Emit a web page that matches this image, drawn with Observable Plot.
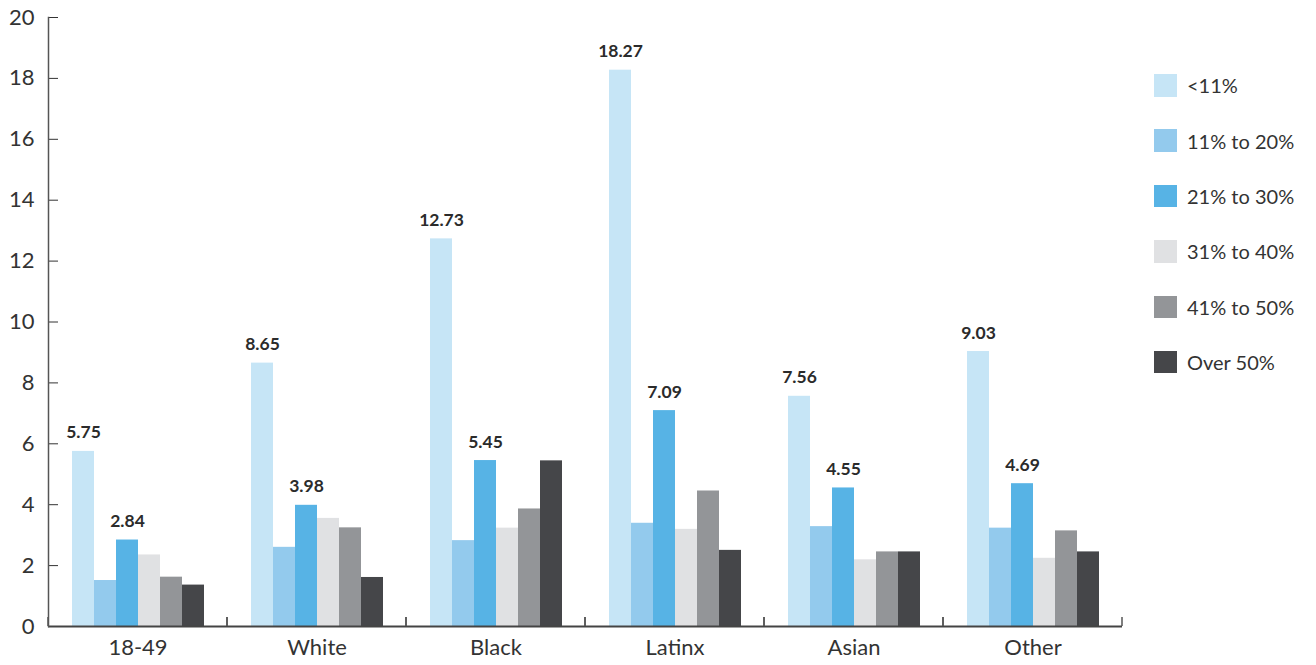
<!DOCTYPE html>
<html>
<head>
<meta charset="utf-8">
<script src="https://cdn.jsdelivr.net/npm/d3@7"></script>
<script src="https://cdn.jsdelivr.net/npm/@observablehq/plot@0.6"></script>
<style>
  body { margin: 0; background: #fff; font-family: Lato, sans-serif; }
  #wrap { position: relative; width: 1316px; height: 665px; }
  #legend { position: absolute; left: 1154px; top: 74px; }
  .item { display: flex; align-items: center; height: 22.5px; margin-bottom: 32.9px; font-size: 20px; font-weight: 400; color: #333; white-space: nowrap; }
  .sw { width: 22.5px; height: 22.5px; margin-right: 10.5px; flex: none; }
</style>
</head>
<body>
<div id="wrap"><div id="legend"></div></div>
<script>
// Groups along the x axis
const categories = ["18-49", "White", "Black", "Latinx", "Asian", "Other"];

// Bar series (one bar per group for each)
const series = ["<11%", "11% to 20%", "21% to 30%", "31% to 40%", "41% to 50%", "Over 50%"];
const colors = ["#c6e5f6", "#93caed", "#57b3e5", "#e0e1e3", "#939598", "#454649"];

// Values per series, in the order of categories
const under11 = [5.75, 8.65, 12.73, 18.27, 7.56, 9.03];
const from11to20 = [1.51, 2.60, 2.82, 3.39, 3.28, 3.23];
const from21to30 = [2.84, 3.98, 5.45, 7.09, 4.55, 4.69];
const from31to40 = [2.35, 3.55, 3.23, 3.19, 2.19, 2.24];
const from41to50 = [1.62, 3.24, 3.86, 4.45, 2.45, 3.14];
const over50 = [1.36, 1.61, 5.44, 2.50, 2.45, 2.45];

// Series whose bars carry a value label
const labelledSeries = ["<11%", "21% to 30%"];

// Y axis tick values
const yTicks = [0, 2, 4, 6, 8, 10, 12, 14, 16, 18, 20];

const seriesValues = [under11, from11to20, from21to30, from31to40, from41to50, over50];
const table = series.flatMap((s, j) =>
  categories.map((c, i) => ({category: c, series: s, value: seriesValues[j][i]}))
);

// Short upward ticks at both edges of each group along the baseline
function groupTicks(index, scales, values, dimensions) {
  const y0 = scales.y(0);
  const left = dimensions.marginLeft;
  const right = dimensions.width - dimensions.marginRight;
  const g = d3.create("svg:g").attr("stroke", "#555").attr("stroke-width", 1.5);
  for (const x of [left, right]) {
    g.append("line").attr("x1", x).attr("x2", x).attr("y1", y0).attr("y2", y0 - 9);
  }
  return g.node();
}

const chart = Plot.plot({
  width: 1140,
  height: 665,
  marginLeft: 48,
  marginRight: 18,
  marginTop: 17,
  marginBottom: 39,
  style: {fontFamily: "Lato, sans-serif", fontSize: "22px", fontWeight: 400, color: "#333", background: "transparent"},
  fx: {domain: categories, padding: 0, label: null, tickSize: 0, tickPadding: 13},
  x: {domain: series, paddingInner: 0, paddingOuter: 0.978, axis: null},
  y: {domain: [0, 20], ticks: yTicks, tickSize: -10, tickPadding: 24, label: null},
  color: {domain: series, range: colors},
  marks: [
    Plot.barY(table, {fx: "category", x: "series", y: "value", fill: "series"}),
    Plot.text(table.filter(d => labelledSeries.includes(d.series)), {
      fx: "category", x: "series", y: "value",
      text: d => d3.format(".2f")(d.value),
      dy: -13, lineAnchor: "bottom",
      fontSize: 17.5, fontWeight: 700, fill: "#2b2b2b"
    }),
    Plot.ruleY([0], {stroke: "#444", strokeWidth: 2}),
    Plot.frame({anchor: "left", facetAnchor: "left", stroke: "#555", strokeWidth: 1.5}),
    groupTicks
  ]
});

document.getElementById("wrap").prepend(chart);

// Legend built from the same series and colours
const legend = d3.select("#legend");
series.forEach((s, j) => {
  const item = legend.append("div").attr("class", "item");
  item.append("div").attr("class", "sw").style("background", colors[j]);
  item.append("span").text(s);
});
</script>
</body>
</html>
